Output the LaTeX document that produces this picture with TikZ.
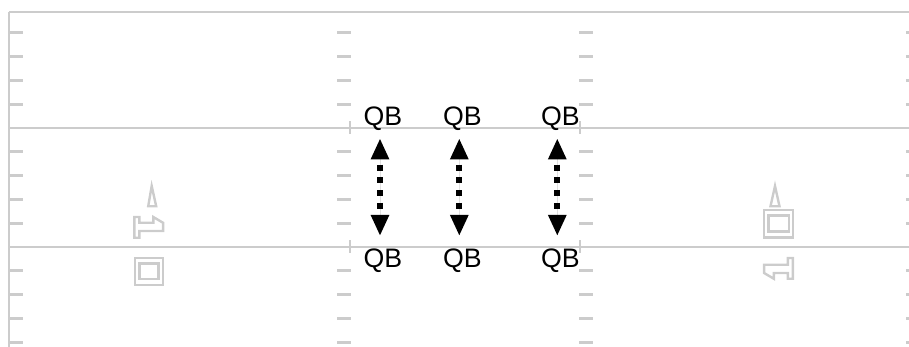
\documentclass[tikz,border=0pt]{standalone}
\usepackage{fontspec}
\setmainfont{Liberation Sans}
\usetikzlibrary{arrows.meta}
\definecolor{chalk}{RGB}{204,204,204}
\definecolor{ink}{RGB}{0,0,0}
\tikzset{
  fieldline/.style={draw=chalk, line width=0.07cm},
  hashmark/.style={draw=chalk, line width=0.07cm},
  numeral/.style={draw=chalk, line width=0.06cm, line join=miter},
  qb/.style={font=\fontsize{19}{21}\selectfont, inner sep=0pt, anchor=base, text=ink},
  qbarrow/.style={{Triangle[length=0.525cm,width=0.425cm]}-{Triangle[length=0.525cm,width=0.425cm]}, line width=0.15cm, draw=ink, fill=ink, dash pattern=on 0.15cm off 0.1675cm, dash phase=0.15cm}
}

\begin{document}
\begin{tikzpicture}[x=0.025cm, y=-0.025cm]
  \useasboundingbox (0,0) rectangle (909,347);
  \clip (0,0) rectangle (909,347);
  % sideline, end line and 5-yard lines
  \draw[fieldline] (9,12) -- (909,12);
  \draw[fieldline] (9,12) -- (9,350);
  \draw[fieldline] (9,128) -- (909,128);
  \draw[fieldline] (9,247) -- (909,247);
  % yard hashes
  \foreach \y in {32.8,56.6,80.4,104.2,151.8,175.6,199.4,223.2,270.8,294.6,318.4,342.2} {
    \draw[hashmark] (9,\y) -- (23,\y);
    \draw[hashmark] (337,\y) -- (351,\y);
    \draw[hashmark] (579,\y) -- (593,\y);
    \draw[hashmark] (906,\y) -- (920,\y);
  }
  \foreach \y in {128,247} {
    \draw[hashmark] (350,{\y-6.5}) -- (350,{\y+6.5});
    \draw[hashmark] (580,{\y-6.5}) -- (580,{\y+6.5});
  }
  % yard numbers
  \draw[numeral] (151.7,186) -- (148.2,206.3) -- (156.2,206.3) -- cycle;
  \draw[numeral] (775,186) -- (770.5,206.3) -- (779.5,206.3) -- cycle;
  \begin{scope}[shift={(148.7,227.4)}]
    \draw[numeral] (-14.4,-10.4) -- (-9.4,-10.4) -- (-9.4,-4.6) -- (4.6,-4.6) -- (4.6,-10.4) -- (14.4,-4.6) -- (14.4,3.6) -- (-9.4,3.6) -- (-9.4,10.4) -- (-14.4,10.4) -- cycle;
  \end{scope}
  \begin{scope}[shift={(778.5,268.4)}, rotate=180]
    \draw[numeral] (-14.4,-10.4) -- (-9.4,-10.4) -- (-9.4,-4.6) -- (4.6,-4.6) -- (4.6,-10.4) -- (14.4,-4.6) -- (14.4,3.6) -- (-9.4,3.6) -- (-9.4,10.4) -- (-14.4,10.4) -- cycle;
  \end{scope}
  \draw[numeral] (135,258) rectangle (163,285);
  \draw[numeral] (139.3,263.5) rectangle (158.3,279);
  \draw[numeral] (764,210) rectangle (793,237.5);
  \draw[numeral] (768.5,215.5) rectangle (789,231.5);
  % quarterbacks
  \foreach \n/\x in {1/380,2/459.3,3/557.3} {
    \node[qb] (qbtop\n) at ({\x+3},125.5) {QB};
    \node[qb] (qbbot\n) at ({\x+3},268) {QB};
    \coordinate (up\n) at (\x,138.3);
    \coordinate (dn\n) at (\x,236);
    \draw[qbarrow] (up\n) -- (dn\n);
  }
\end{tikzpicture}
\end{document}
